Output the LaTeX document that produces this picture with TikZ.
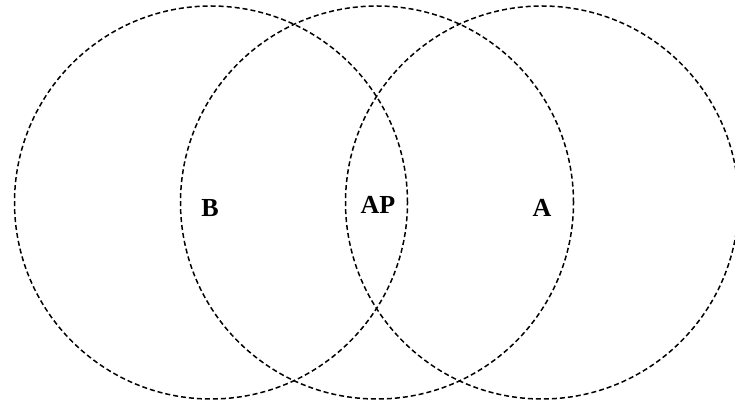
\documentclass[tikz,border=0pt]{standalone}
\usepackage{fontspec}
\setmainfont{Liberation Serif}[BoldFont={Liberation Serif Bold}]
\usepackage{tikz}
\usetikzlibrary{positioning}

\begin{document}
\begin{tikzpicture}[
    x=1pt, y=-1pt,
    zone/.style={circle, draw, dash pattern=on 5pt off 3pt, line width=1.5pt, minimum size=393pt, inner sep=0pt},
    lbl/.style={font=\fontsize{26}{26}\selectfont\bfseries, inner sep=0pt}
]
\useasboundingbox (0,0) rectangle (735,403);

% Circles
\node[zone] (zoneB) at (211, 202.5) {};
\node[zone] (zoneAP) at (377, 202.5) {};
\node[zone] (zoneA) at (542, 202.5) {};

% Labels
\node[lbl] (labB) at (210, 208) {B};
\node[lbl] (labAP) at (378, 205) {AP};
\node[lbl] (labA) at (542, 208) {A};

\end{tikzpicture}
\end{document}
